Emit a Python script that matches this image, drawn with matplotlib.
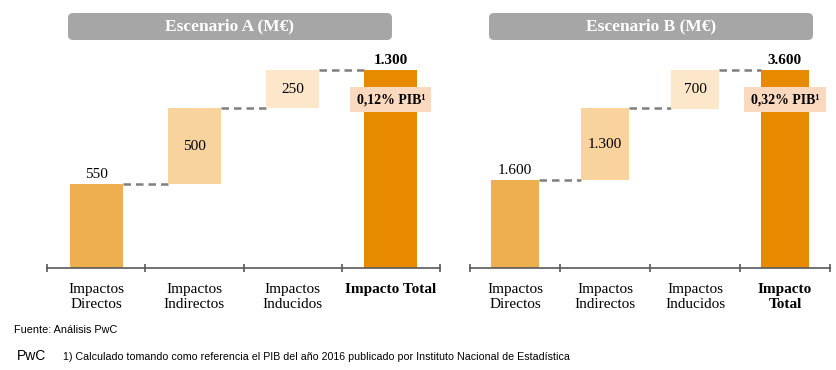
"""Waterfall comparison of economic impact, two scenarios."""

import matplotlib.pyplot as plt
from matplotlib.patches import FancyBboxPatch

CATEGORIES_A = ["Impactos\nDirectos", "Impactos\nIndirectos", "Impactos\nInducidos", "Impacto Total"]
CATEGORIES_B = ["Impactos\nDirectos", "Impactos\nIndirectos", "Impactos\nInducidos", "Impacto\nTotal"]
VALUES_A = [550, 500, 250]
VALUES_B = [1600, 1300, 700]
TITLES = ["Escenario A (M€)", "Escenario B (M€)"]
PIB_LABELS = ["0,12% PIB¹", "0,32% PIB¹"]

STEP_COLORS = ["#EEAF51", "#F8D39E", "#FCE7CB"]
TOTAL_COLOR = "#E88A00"
SERIF = "Liberation Serif"
SANS = "Liberation Sans"

W, H = 837, 370


def fmt(value):
    return f"{value:,}".replace(",", ".")


def draw_waterfall(fig, rect, values, categories, pib_label, title, title_rect):
    ax = fig.add_axes(rect)
    total = sum(values)
    xs = range(len(values) + 1)
    width = 0.54

    bottom = 0
    for i, val in enumerate(values):
        ax.bar(i, val, bottom=bottom, width=width, color=STEP_COLORS[i], zorder=2)
        if i == 0:
            ax.text(i, val + total * 0.015, fmt(val), ha="center", va="bottom",
                    family=SERIF, fontsize=11)
        else:
            ax.text(i, bottom + val / 2, fmt(val), ha="center", va="center",
                    family=SERIF, fontsize=11)
        bottom += val
        ax.plot([i + width / 2, i + 1 - width / 2], [bottom, bottom],
                color="#7F7F7F", linestyle=(0, (3, 2)), linewidth=1.8, zorder=1)

    n = len(values)
    ax.bar(n, total, width=width, color=TOTAL_COLOR, zorder=2)
    ax.text(n, total + total * 0.015, fmt(total), ha="center", va="bottom",
            family=SERIF, fontsize=11, fontweight="bold")
    ax.text(n, total * 0.85, pib_label, ha="center", va="center",
            family=SERIF, fontsize=10, fontweight="bold", zorder=3,
            bbox=dict(boxstyle="square,pad=0.45", facecolor="#FBD9BF", edgecolor="none"))

    ax.set_xlim(-0.5, n + 0.5)
    ax.set_ylim(0, total * 208 / 198)
    for side in ["top", "right", "left"]:
        ax.spines[side].set_visible(False)
    ax.spines["bottom"].set_color("#595959")
    ax.spines["bottom"].set_linewidth(1.2)
    ax.set_yticks([])
    ax.set_xticks([x - 0.5 for x in xs] + [n + 0.5])
    ax.set_xticklabels([])
    ax.tick_params(axis="x", direction="inout", length=6, color="#595959", width=1.2)
    ax.set_xticks(list(xs), minor=True)
    ax.set_xticklabels(categories, minor=True, family=SERIF, fontsize=11,
                       linespacing=1.2)
    ax.tick_params(axis="x", which="minor", length=0, pad=11)
    ax.get_xticklabels(minor=True)[-1].set_fontweight("bold")

    x0, y0, w, h = title_rect
    box = FancyBboxPatch((x0 / W, 1 - (y0 + h) / H), w / W, h / H,
                         boxstyle="round,pad=0,rounding_size=0.006",
                         mutation_aspect=W / H, transform=fig.transFigure,
                         facecolor="#A6A6A6", edgecolor="none")
    fig.patches.append(box)
    fig.text((x0 + w / 2) / W, 1 - (y0 + h / 2) / H, title, ha="center", va="center",
             color="white", family=SERIF, fontsize=12.5, fontweight="bold")
    return ax


fig = plt.figure(figsize=(W / 100, H / 100), dpi=100)

bottom_px = 268
height_px = 208
draw_waterfall(fig, [47 / W, (H - bottom_px) / H, 393 / W, height_px / H],
               VALUES_A, CATEGORIES_A, PIB_LABELS[0], TITLES[0], (68, 13, 324, 27))
draw_waterfall(fig, [470 / W, (H - bottom_px) / H, 360 / W, height_px / H],
               VALUES_B, CATEGORIES_B, PIB_LABELS[1], TITLES[1], (489, 13, 324, 27))

fig.text(14 / W, 1 - 330 / H, "Fuente: Análisis PwC", family=SANS, fontsize=7.8,
         va="center")
fig.text(17 / W, 1 - 356 / H, "PwC", family=SANS, fontsize=10, va="center")
fig.text(63 / W, 1 - 357 / H,
         "1) Calculado tomando como referencia el PIB del año 2016 publicado por "
         "Instituto Nacional de Estadística",
         family=SANS, fontsize=7.65, va="center")

fig.savefig("out.png", dpi=100)
